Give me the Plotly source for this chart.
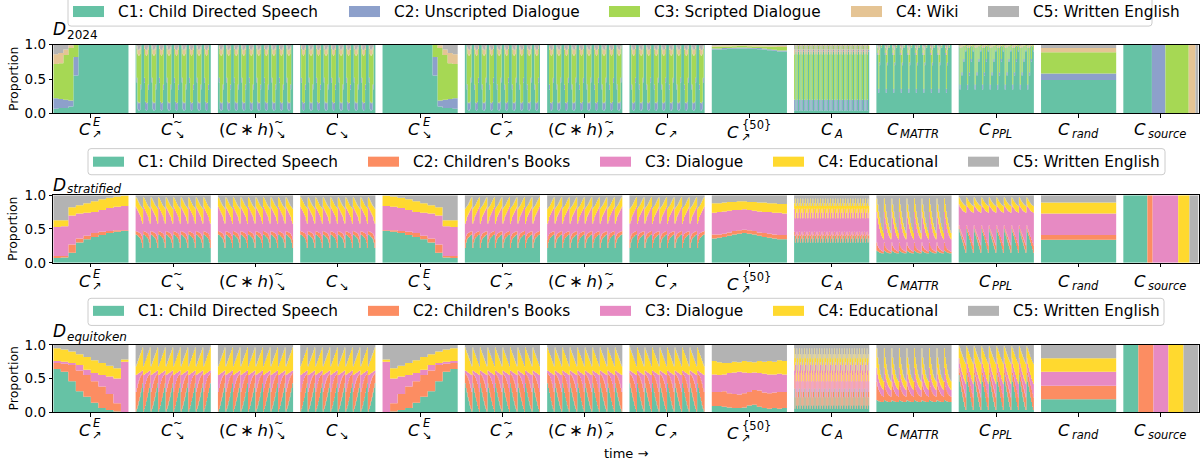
import re
import plotly.graph_objects as go

W, H = 1203, 463

# ---------------- categories / colours ----------------
NAMES_D24 = ["C1: Child Directed Speech", "C2: Unscripted Dialogue", "C3: Scripted Dialogue",
             "C4: Wiki", "C5: Written English"]
NAMES_NEW = ["C1: Child Directed Speech", "C2: Children's Books", "C3: Dialogue",
             "C4: Educational", "C5: Written English"]
COLORS_D24 = ["#66c2a5", "#8da0cb", "#a6d854", "#e5c494", "#b3b3b3"]
COLORS_NEW = ["#66c2a5", "#fc8d62", "#e78ac3", "#ffd92f", "#b3b3b3"]

ROW_TITLES = [("D", "2024"), ("D", "stratified"), ("D", "equitoken")]

# tick labels: (main, subscript, superscript)
SEG_LABELS = [
    ("C", "↗", "E"), ("C", "↘", "~"), ("(C\u2009∗\u2009h)", "↘", "~"), ("C", "↘", ""),
    ("C", "↘", "E"), ("C", "↗", "~"), ("(C\u2009∗\u2009h)", "↗", "~"), ("C", "↗", ""),
    ("C", "↗", "{50}"), ("C", "A", ""), ("C", "MATTR", ""), ("C", "PPL", ""),
    ("C", "rand", ""), ("C", "source", ""),
]

# ---------------- data: cumulative tops of C1, C1+C2, C1..C3, C1..C4 per time step ----------------
# ---- D_2024 ----
D24_EASY = [
    (0.07, 0.22, 0.72, 0.86), (0.08, 0.21, 0.73, 0.88), (0.08, 0.20, 0.85, 0.93),
    (0.10, 0.19, 0.95, 0.99), (0.55, 0.82, 1.00, 1.00), (1.0, 1.0, 1.0, 1.0),
    (1.0, 1.0, 1.0, 1.0), (1.0, 1.0, 1.0, 1.0), (1.0, 1.0, 1.0, 1.0), (1.0, 1.0, 1.0, 1.0),
    (1.0, 1.0, 1.0, 1.0), (1.0, 1.0, 1.0, 1.0), (1.0, 1.0, 1.0, 1.0), (1.0, 1.0, 1.0, 1.0),
    (1.0, 1.0, 1.0, 1.0),
]
D24_CYCLE = [
    (1.00, 1.00, 1.00, 1.00), (0.45, 0.52, 0.94, 0.98), (0.06, 0.17, 0.86, 0.93),
    (0.04, 0.15, 0.84, 0.92), (0.05, 0.16, 0.86, 0.94), (0.35, 0.42, 0.93, 0.97),
    (1.00, 1.00, 1.00, 1.00), (1.00, 1.00, 1.00, 1.00),
]
D24_FIFTY = [
    (0.93, 0.945, 0.97, 0.985), (0.93, 0.945, 0.972, 0.987), (0.935, 0.95, 0.975, 0.99),
    (0.94, 0.952, 0.975, 0.99), (0.94, 0.955, 0.978, 0.99), (0.945, 0.957, 0.98, 0.992),
    (0.945, 0.957, 0.98, 0.992), (0.94, 0.955, 0.978, 0.99), (0.94, 0.952, 0.975, 0.99),
    (0.935, 0.95, 0.975, 0.99), (0.93, 0.945, 0.972, 0.988), (0.92, 0.935, 0.97, 0.985),
    (0.91, 0.925, 0.968, 0.985), (0.90, 0.915, 0.965, 0.985), (0.90, 0.915, 0.965, 0.985),
]
D24_CA = [(0.04, 0.20, 0.86, 0.93), (0.90, 0.93, 0.98, 1.00)]
D24_MATTR = [
    (1.00, 1.00, 1.00, 1.00), (0.85, 0.88, 0.96, 0.98), (0.30, 0.36, 0.85, 0.92),
    (0.70, 0.74, 0.93, 0.97), (1.00, 1.00, 1.00, 1.00), (0.95, 0.96, 0.98, 0.99),
    (1.00, 1.00, 1.00, 1.00), (1.00, 1.00, 1.00, 1.00),
]
D24_PPL = [
    (0.97, 0.98, 0.995, 1.0), (0.35, 0.42, 0.95, 0.98), (0.96, 0.97, 0.99, 1.0),
    (0.55, 0.60, 0.96, 0.99), (0.97, 0.98, 0.99, 1.0), (0.75, 0.79, 0.98, 0.99),
    (0.97, 0.98, 0.99, 1.0), (0.90, 0.92, 0.99, 1.0),
]
D24_RAND = [(0.485, 0.58, 0.89, 0.95)]
D24_SOURCE = [0.38, 0.18, 0.31, 0.09, 0.04]

# ---- D_stratified ----
STR_EASY = [
    (0.07, 0.10, 0.53, 0.63), (0.08, 0.10, 0.54, 0.63), (0.15, 0.27, 0.70, 0.82),
    (0.30, 0.36, 0.73, 0.85), (0.35, 0.40, 0.74, 0.88), (0.38, 0.44, 0.75, 0.91),
    (0.41, 0.46, 0.78, 0.94), (0.44, 0.47, 0.81, 0.96), (0.46, 0.48, 0.83, 0.98),
    (0.47, 0.48, 0.84, 0.99),
]
STR_CYCLE = [
    (0.42, 0.47, 0.83, 0.97), (0.41, 0.46, 0.80, 0.95), (0.40, 0.46, 0.77, 0.92),
    (0.38, 0.45, 0.74, 0.89), (0.37, 0.44, 0.71, 0.86), (0.35, 0.43, 0.68, 0.84),
    (0.30, 0.40, 0.62, 0.82), (0.22, 0.35, 0.58, 0.80),
]
STR_FIFTY = [
    (0.36, 0.42, 0.74, 0.88), (0.37, 0.42, 0.75, 0.88), (0.38, 0.43, 0.76, 0.89),
    (0.40, 0.45, 0.77, 0.90), (0.42, 0.47, 0.78, 0.90), (0.43, 0.48, 0.78, 0.91),
    (0.44, 0.49, 0.79, 0.91), (0.43, 0.48, 0.78, 0.90), (0.42, 0.47, 0.77, 0.90),
    (0.40, 0.45, 0.76, 0.89), (0.38, 0.44, 0.75, 0.89), (0.37, 0.43, 0.75, 0.88),
    (0.36, 0.42, 0.74, 0.88), (0.35, 0.41, 0.74, 0.87), (0.35, 0.41, 0.73, 0.87),
]
STR_CA = [(0.40, 0.46, 0.80, 0.88), (0.30, 0.40, 0.66, 0.95), (0.36, 0.42, 0.74, 0.84)]
STR_MATTR = [
    (0.18, 0.30, 0.75, 0.95), (0.17, 0.25, 0.66, 0.86), (0.16, 0.22, 0.57, 0.76),
    (0.15, 0.20, 0.50, 0.67), (0.15, 0.19, 0.44, 0.59), (0.14, 0.18, 0.40, 0.53),
    (0.14, 0.17, 0.37, 0.48), (0.14, 0.16, 0.35, 0.44),
]
STR_PPL = [
    (0.50, 0.55, 0.86, 0.97), (0.45, 0.50, 0.83, 0.95), (0.40, 0.46, 0.81, 0.92),
    (0.35, 0.42, 0.79, 0.90), (0.30, 0.38, 0.77, 0.88), (0.25, 0.34, 0.76, 0.86),
    (0.20, 0.30, 0.75, 0.85), (0.15, 0.26, 0.74, 0.84),
]
STR_RAND = [(0.34, 0.41, 0.73, 0.89)]
STR_SOURCE = [0.32, 0.07, 0.34, 0.15, 0.12]

# ---- D_equitoken ----
EQ_EASY = [
    (0.64, 0.73, 0.76, 0.95), (0.60, 0.72, 0.75, 0.93), (0.46, 0.70, 0.73, 0.90),
    (0.31, 0.62, 0.70, 0.86), (0.23, 0.55, 0.63, 0.82), (0.14, 0.46, 0.58, 0.77),
    (0.06, 0.38, 0.55, 0.73), (0.03, 0.27, 0.53, 0.69), (0.01, 0.13, 0.50, 0.65),
    (0.00, 0.00, 0.75, 0.78),
]
EQ_CYCLE = [
    (0.01, 0.30, 0.55, 0.68), (0.05, 0.36, 0.56, 0.72), (0.10, 0.42, 0.57, 0.76),
    (0.16, 0.47, 0.58, 0.80), (0.22, 0.51, 0.59, 0.84), (0.29, 0.54, 0.60, 0.88),
    (0.36, 0.56, 0.61, 0.92), (0.43, 0.58, 0.62, 0.96),
]
EQ_FIFTY = [
    (0.09, 0.30, 0.56, 0.76), (0.09, 0.30, 0.55, 0.74), (0.08, 0.31, 0.56, 0.73),
    (0.07, 0.28, 0.58, 0.73), (0.06, 0.27, 0.59, 0.75), (0.06, 0.26, 0.60, 0.74),
    (0.07, 0.28, 0.59, 0.76), (0.10, 0.30, 0.58, 0.75), (0.11, 0.33, 0.59, 0.74),
    (0.08, 0.32, 0.58, 0.76), (0.06, 0.29, 0.57, 0.75), (0.05, 0.28, 0.56, 0.76),
    (0.06, 0.29, 0.56, 0.75), (0.05, 0.30, 0.57, 0.77), (0.06, 0.30, 0.56, 0.76),
]
EQ_CA = [(0.35, 0.55, 0.62, 0.95), (0.05, 0.22, 0.70, 0.80), (0.22, 0.58, 0.74, 0.86),
         (0.10, 0.30, 0.46, 0.62)]
EQ_MATTR = [
    (0.18, 0.45, 0.66, 0.95), (0.17, 0.38, 0.56, 0.81), (0.16, 0.33, 0.49, 0.71),
    (0.16, 0.30, 0.44, 0.63), (0.15, 0.27, 0.40, 0.56), (0.15, 0.25, 0.37, 0.51),
    (0.15, 0.24, 0.35, 0.48), (0.15, 0.23, 0.33, 0.46),
]
EQ_PPL = [
    (0.55, 0.65, 0.80, 0.98), (0.45, 0.58, 0.72, 0.95), (0.38, 0.52, 0.66, 0.90),
    (0.30, 0.46, 0.60, 0.86), (0.22, 0.40, 0.55, 0.82), (0.15, 0.34, 0.50, 0.78),
    (0.08, 0.28, 0.46, 0.75), (0.03, 0.22, 0.42, 0.72),
]
EQ_RAND = [(0.19, 0.39, 0.60, 0.80)]
EQ_SOURCE = [0.20, 0.20, 0.20, 0.20, 0.20]

N_CYCLES = 10
N_CA = 30


def row_segments(easy, cycle, fifty, ca, mattr, ppl, rand, source):
    down = cycle * N_CYCLES
    up = down[::-1]
    onehot = [(1, 1, 1, 1), (0, 1, 1, 1), (0, 0, 1, 1), (0, 0, 0, 1), (0, 0, 0, 0)]
    return [
        (easy, None), (down, None), (down, None), (down, None),
        (easy[::-1], None), (up, None), (up, None), (up, None),
        (fifty, None), (ca * N_CA, None), (mattr * N_CYCLES, None), (ppl * N_CYCLES, None),
        (rand * 20, None), (onehot, source),
    ]


ROWS = [
    (row_segments(D24_EASY, D24_CYCLE, D24_FIFTY, D24_CA, D24_MATTR, D24_PPL, D24_RAND, D24_SOURCE),
     COLORS_D24, NAMES_D24),
    (row_segments(STR_EASY, STR_CYCLE, STR_FIFTY, STR_CA, STR_MATTR, STR_PPL, STR_RAND, STR_SOURCE),
     COLORS_NEW, NAMES_NEW),
    (row_segments(EQ_EASY, EQ_CYCLE, EQ_FIFTY, EQ_CA, EQ_MATTR, EQ_PPL, EQ_RAND, EQ_SOURCE),
     COLORS_NEW, NAMES_NEW),
]

# ---------------- geometry (pixels of the final picture) ----------------
X_LEFT, X_RIGHT = 53.3, 1198.5
ROW_TOP = [43.5, 193.3, 342.3]
ROW_BOT = [112.0, 260.7, 409.3]
PERIOD, GAP = 1.095, 0.095
XMAX = 13 * PERIOD + 1.0
# the page shows the plotting paper starting ~7px down and ~445px tall
PAPER_TOP, PAPER_H = 7.0, 445.0


def fx(px):
    return px / W


def fy(py):
    return 1 - (py - PAPER_TOP) / PAPER_H


def data_to_px(x):
    return X_LEFT + x / XMAX * (X_RIGHT - X_LEFT)


fig = go.Figure()

for r, (segments, colors, names) in enumerate(ROWS):
    xa = "x" if r == 0 else f"x{r + 1}"
    ya = "y" if r == 0 else f"y{r + 1}"
    for s, (tops, widths) in enumerate(segments):
        n = len(tops)
        if widths is None:
            widths = [1.0] * n
        tot = sum(widths)
        x0 = s * PERIOD
        xs = [x0]
        for w in widths:
            xs.append(xs[-1] + w / tot)
        for k in range(5):
            if k < 4:
                ys = [t[k] for t in tops]
            else:
                ys = [1.0] * n
            ys = ys + [ys[-1]]
            fig.add_trace(go.Scatter(
                x=xs, y=ys, mode="lines", line=dict(width=0, shape="hv", color=colors[k]),
                fill="tozeroy" if k == 0 else "tonexty", fillcolor=colors[k],
                hoverinfo="skip", showlegend=False, xaxis=xa, yaxis=ya))

# ---------------- axes ----------------
centers = [s * PERIOD + 0.5 for s in range(14)]
layout_axes = {}
for r in range(3):
    xk = "xaxis" if r == 0 else f"xaxis{r + 1}"
    yk = "yaxis" if r == 0 else f"yaxis{r + 1}"
    ya = "y" if r == 0 else f"y{r + 1}"
    xa = "x" if r == 0 else f"x{r + 1}"
    layout_axes[xk] = dict(
        domain=[fx(X_LEFT), fx(X_RIGHT)], range=[0, XMAX], anchor=ya,
        tickvals=centers, showticklabels=False, ticks="outside", ticklen=3.5, tickwidth=1,
        tickcolor="black", showline=True, linecolor="black", linewidth=1, mirror=True,
        showgrid=False, zeroline=False, fixedrange=True)
    layout_axes[yk] = dict(
        domain=[fy(ROW_BOT[r]), fy(ROW_TOP[r])], range=[0, 1], anchor=xa,
        tickvals=[0, 0.5, 1.0], ticktext=["0.0", "0.5", "1.0"], ticks="outside", ticklen=3.5,
        tickwidth=1, tickcolor="black", showline=True, linecolor="black", linewidth=1, mirror=True,
        showgrid=False, zeroline=False, tickfont=dict(size=13.5, color="black"), fixedrange=True)

annotations = []
shapes = []

# y labels and row titles
for r in range(3):
    annotations.append(dict(
        text="Proportion", x=fx(13), y=fy((ROW_TOP[r] + ROW_BOT[r]) / 2), xref="paper", yref="paper",
        textangle=-90, showarrow=False, font=dict(size=12.5, color="black"),
        xanchor="center", yanchor="middle"))

TITLE_Y = [27.5, 183.0, 328.5]
TITLE_SUB_DY = [6.0, 4.5, 6.0]
for r, (main, sub) in enumerate(ROW_TITLES):
    annotations.append(dict(
        text=f"<i>{main}</i>", x=fx(51), y=fy(TITLE_Y[r]), xref="paper", yref="paper",
        showarrow=False, font=dict(size=17, color="black"), xanchor="left", yanchor="middle"))
    annotations.append(dict(
        text=sub if sub.isdigit() else f"<i>{sub}</i>",
        x=fx(64.5), y=fy(TITLE_Y[r] + TITLE_SUB_DY[r]), xref="paper", yref="paper",
        showarrow=False, font=dict(size=12, color="black"), xanchor="left", yanchor="middle"))

annotations.append(dict(
    text="time →", x=fx(626), y=fy(451), xref="paper", yref="paper", showarrow=False,
    font=dict(size=13, color="black"), xanchor="center", yanchor="middle"))

# x tick labels (math-like)
CHAR_W = {'C': .698, '(': .39, ')': .39, 'h': .634, '∗': .5, ' ': .318, '\u2009': .17,
          'A': .684, 'M': .863, 'T': .611, 'R': .695, 'P': .603, 'L': .557, 'r': .411,
          'a': .613, 'n': .634, 'd': .635, 's': .521, 'o': .612, 'u': .634, 'c': .55,
          'e': .615, 'E': .632, '{': .636, '}': .636, '5': .636, '0': .636,
          '↗': .838, '↘': .838, '~': .838}


def tw(s, size):
    return sum(CHAR_W.get(ch, 0.6) for ch in s) * size


def ital(s):
    return re.sub(r"([A-Za-z]+)", r"<i>\1</i>", s)


MAIN_FS, SCR_FS = 16.5, 11.5
LABEL_Y = [127.5, 279.0, 427.5]
for r in range(3):
    for s, (main, sub, sup) in enumerate(SEG_LABELS):
        cx = data_to_px(centers[s])
        wm = tw(main, MAIN_FS)
        wsub = tw(sub, SCR_FS)
        wsup = tw(sup, SCR_FS) if sup != "~" else 0
        wtot = wm + max(wsub, wsup) - 2
        joint = cx - wtot / 2 + wm
        yc = LABEL_Y[r] + (3 if sup == "{50}" else 0)
        annotations.append(dict(
            text=ital(main), x=fx(joint), y=fy(yc), xref="paper", yref="paper", showarrow=False,
            font=dict(size=MAIN_FS, color="black"), xanchor="right", yanchor="middle"))
        sub_html = sub if sub in ("↗", "↘") else ital(sub)
        xs_ = joint - 2.5
        annotations.append(dict(
            text=sub_html, x=fx(xs_), y=fy(yc + 4.5), xref="paper", yref="paper",
            showarrow=False, font=dict(size=SCR_FS, color="black"), xanchor="left", yanchor="middle"))
        if sup == "~":
            annotations.append(dict(
                text="~", x=fx(xs_ + wsub / 2 + 1), y=fy(yc - 7), xref="paper", yref="paper",
                showarrow=False, font=dict(size=SCR_FS, color="black"), xanchor="center",
                yanchor="middle"))
        elif sup:
            annotations.append(dict(
                text=ital(sup), x=fx(xs_ + 1), y=fy(yc - 7), xref="paper", yref="paper",
                showarrow=False, font=dict(size=SCR_FS, color="black"), xanchor="left",
                yanchor="middle"))

# ---------------- manual legends ----------------
LEG_BOX = [(68, 1152, -8, 25), (88, 1165, 147, 173), (88, 1164, 296, 323)]
LEG_PATCH_X = [[73, 349, 609, 851, 988], [93, 368, 600, 773, 968], [93, 368, 600, 773, 968]]
LEG_PATCH_Y = [(5, 16), (155, 165), (303.5, 313.5)]


def rounded_rect_path(l, rr, t, b, rad=3):
    pts = [
        f"M{fx(l + rad)},{fy(t)}", f"L{fx(rr - rad)},{fy(t)}", f"Q{fx(rr)},{fy(t)} {fx(rr)},{fy(t + rad)}",
        f"L{fx(rr)},{fy(b - rad)}", f"Q{fx(rr)},{fy(b)} {fx(rr - rad)},{fy(b)}",
        f"L{fx(l + rad)},{fy(b)}", f"Q{fx(l)},{fy(b)} {fx(l)},{fy(b - rad)}",
        f"L{fx(l)},{fy(t + rad)}", f"Q{fx(l)},{fy(t)} {fx(l + rad)},{fy(t)}", "Z"]
    return " ".join(pts)


for r, (segments, colors, names) in enumerate(ROWS):
    l, rr, t, b = LEG_BOX[r]
    shapes.append(dict(type="path", path=rounded_rect_path(l, rr, t, b), xref="paper", yref="paper",
                       line=dict(color="#cccccc", width=1), fillcolor="rgba(255,255,255,0.8)",
                       layer="above"))
    py0, py1 = LEG_PATCH_Y[r]
    for k in range(5):
        px0 = LEG_PATCH_X[r][k]
        shapes.append(dict(type="rect", x0=fx(px0), x1=fx(px0 + 31), y0=fy(py1), y1=fy(py0),
                           xref="paper", yref="paper", line=dict(width=0), fillcolor=colors[k],
                           layer="above"))
        annotations.append(dict(
            text=names[k], x=fx(px0 + 43), y=fy((py0 + py1) / 2 + 0.5), xref="paper", yref="paper",
            showarrow=False, font=dict(size=15.3, color="black"), xanchor="left", yanchor="middle"))

fig.update_layout(
    width=W, height=H, margin=dict(l=0, r=0, t=0, b=0), autosize=False,
    paper_bgcolor="white", plot_bgcolor="white",
    font=dict(family="DejaVu Sans", color="black"),
    showlegend=False, annotations=annotations, shapes=shapes, **layout_axes)

fig.write_html("out.html", config={"displayModeBar": False, "responsive": False},
               post_script="document.body.style.margin='0';")
